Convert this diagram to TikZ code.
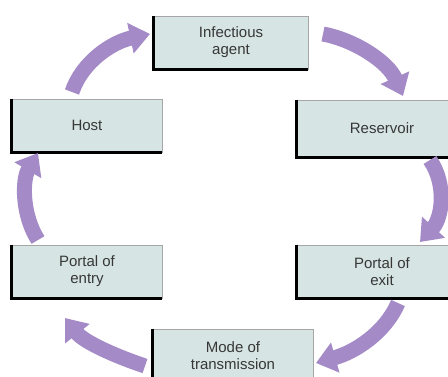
\documentclass[tikz,border=0pt]{standalone}
\usepackage{fontspec}
\setmainfont{Liberation Sans}
\usetikzlibrary{arrows.meta}
\definecolor{boxfill}{RGB}{214,228,227}
\definecolor{arrowc}{RGB}{164,138,198}
\definecolor{txt}{RGB}{55,55,55}
\begin{document}
\begin{tikzpicture}[x=1pt,y=-1pt,
  box/.style={draw=gray!70, line width=0.6pt, fill=boxfill, minimum height=53pt,
    inner sep=0pt, align=center, font=\fontsize{15}{17}\selectfont, text=txt},
  cyc/.style={draw=arrowc, line width=15pt, -{Triangle[length=20pt,width=30pt]}},
  edge/.style={line width=3pt, black}]
\useasboundingbox (0,0) rectangle (448,376);
\clip (0,0) rectangle (448,376);
\node[box, minimum width=154pt] (agent) at (231,42.5) {Infectious\\agent};
\node[box, minimum width=150pt] (host) at (87,125.5) {Host};
\node[box, minimum width=170pt, minimum height=57pt] (res) at (382,128.5) {Reservoir};
\node[box, minimum width=150pt] (entry) at (87,271.5) {Portal of\\entry};
\node[box, minimum width=170pt] (exit) at (382,271.5) {Portal of\\exit};
\node[box, minimum width=160pt] (mode) at (233,355.5) {Mode of\\transmission};
\foreach \n in {agent,host,res,entry,exit,mode}
  \draw[edge] (\n.north west) -- (\n.south west) -- (\n.south east);
% arrow end points
\coordinate (a1) at (72,92);   \coordinate (b1) at (150,34);
\coordinate (a2) at (323,34);  \coordinate (b2) at (403,96);
\coordinate (a3) at (430,160); \coordinate (b3) at (420,242);
\coordinate (a4) at (398,303); \coordinate (b4) at (316,363);
\coordinate (a5) at (145,366); \coordinate (b5) at (65,318);
\coordinate (a6) at (38,240);  \coordinate (b6) at (38,153);
\draw[cyc] (a1) .. controls (82,62) and (112,42) .. (b1);
\draw[cyc] (a2) .. controls (355,40) and (388,62) .. (b2);
\draw[cyc] (a3) .. controls (447,185) and (442,218) .. (b3);
\draw[cyc] (a4) .. controls (385,333) and (355,352) .. (b4);
\draw[cyc] (a5) .. controls (115,356) and (84,342) .. (b5);
\draw[cyc] (a6) .. controls (22,215) and (22,180) .. (b6);
\end{tikzpicture}
\end{document}
